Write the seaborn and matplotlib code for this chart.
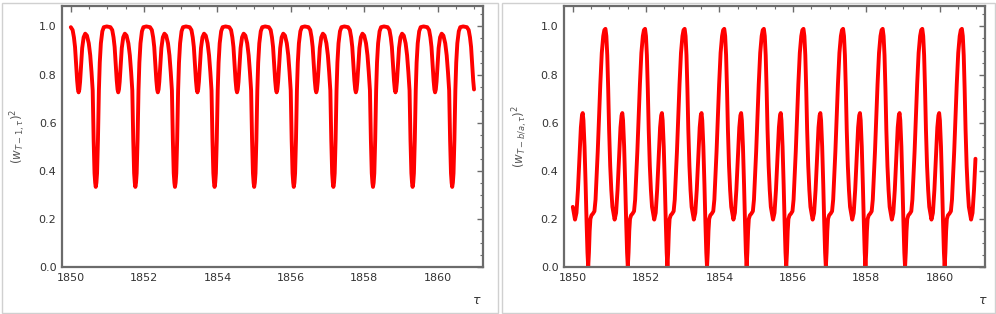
import matplotlib
matplotlib.use("Agg")
import matplotlib.pyplot as plt
from matplotlib.patches import Rectangle
from matplotlib.ticker import MultipleLocator
import seaborn as sns
import numpy as np
import pandas as pd

# one cycle of each curve (offset in years, value)
left_offsets = [0.000, 0.018, 0.036, 0.060, 0.086, 0.110, 0.140, 0.180, 0.220, 0.300,
                0.400, 0.450, 0.485, 0.515, 0.545, 0.573, 0.595, 0.613, 0.633, 0.653,
                0.680, 0.710, 0.750, 0.793, 0.840, 0.890, 0.930, 0.965, 0.997, 1.023,
                1.047, 1.065]
left_values = [0.333, 0.350, 0.390, 0.527, 0.734, 0.850, 0.930, 0.980, 0.997, 1.000,
               0.997, 0.985, 0.955, 0.915, 0.845, 0.775, 0.738, 0.726, 0.738, 0.770,
               0.840, 0.910, 0.955, 0.970, 0.962, 0.930, 0.880, 0.810, 0.734, 0.527,
               0.390, 0.350]
# times of the deep dips (left panel)
left_starts = [1849.60, 1850.68, 1851.76, 1852.84, 1853.92, 1855.00,
               1856.08, 1857.16, 1858.24, 1859.32, 1860.40]

right_offsets = [0.000, 0.025, 0.050, 0.075, 0.100, 0.130, 0.160, 0.190, 0.250, 0.290,
                 0.330, 0.370, 0.410, 0.440, 0.460, 0.480, 0.510, 0.540, 0.565, 0.590,
                 0.610, 0.630, 0.650, 0.670, 0.700, 0.740, 0.780, 0.810, 0.840, 0.870,
                 0.910, 0.940, 0.980, 1.020, 1.050]
right_values = [0.990, 0.960, 0.880, 0.740, 0.570, 0.420, 0.320, 0.250, 0.197, 0.225,
                0.320, 0.450, 0.580, 0.630, 0.640, 0.610, 0.500, 0.340, 0.190, 0.060,
                0.000, 0.060, 0.150, 0.200, 0.215, 0.222, 0.232, 0.280, 0.380, 0.480,
                0.640, 0.760, 0.890, 0.960, 0.985]
# times of the main peaks (right panel)
right_starts = [1849.81, 1850.89, 1851.97, 1853.05, 1854.13, 1855.21,
                1856.29, 1857.37, 1858.45, 1859.53, 1860.61]

t_first, t_last = 1850.0, 1861.0

ylabels = [r'$\left(w_{T-1,\tau}\right)^2$', r'$\left(w_{T-b/a,\tau}\right)^2$']


def build(starts, offsets, values):
    t = np.concatenate([s + np.array(offsets) for s in starts])
    v = np.tile(values, len(starts))
    keep = (t >= t_first - 1e-9) & (t <= t_last + 1e-9)
    return pd.DataFrame({'tau': t[keep], 'w2': v[keep]})


frames = [build(left_starts, left_offsets, left_values),
          build(right_starts, right_offsets, right_values)]

sns.set_style("white")
plt.rcParams['font.family'] = ['DejaVu Sans']
plt.rcParams['mathtext.fontset'] = 'dejavusans'

W, H = 996, 314
fig = plt.figure(figsize=(W / 100, H / 100), dpi=100)

# light outer boxes around each panel
for x0, x1 in [(1.5, 497.5), (501.5, 994.5)]:
    fig.patches.append(Rectangle((x0 / W, 1.5 / H), (x1 - x0) / W, (311 - 1.5) / H,
                                 transform=fig.transFigure, fill=False,
                                 edgecolor='#d0d0d0', linewidth=1.0))

lefts = [62, 564]
frame_col = '#6b6b6b'
for i, df in enumerate(frames):
    ax = fig.add_axes([lefts[i] / W, (H - 267) / H, 421 / W, 261 / H])
    sns.lineplot(data=df, x='tau', y='w2', ax=ax, color='#ff0000', linewidth=2.8,
                 estimator=None)
    ax.set_xlim(1849.76, 1861.24)
    ax.set_ylim(0, 1.085)
    ax.xaxis.set_major_locator(MultipleLocator(2))
    ax.xaxis.set_minor_locator(MultipleLocator(0.5))
    ax.yaxis.set_major_locator(MultipleLocator(0.2))
    ax.yaxis.set_minor_locator(MultipleLocator(0.05))
    ax.set_yticks(np.arange(0, 1.01, 0.2))
    ax.set_yticklabels([f'{v:.1f}' for v in np.arange(0, 1.01, 0.2)])
    ax.tick_params(which='both', direction='in', top=True, right=True,
                   color=frame_col, labelsize=8, labelcolor='#333333', pad=4)
    ax.tick_params(which='major', length=4, width=1.0)
    ax.tick_params(which='minor', length=2.2, width=0.8)
    for sp in ax.spines.values():
        sp.set_color(frame_col)
        sp.set_linewidth(1.6)
    ax.set_xlabel('')
    ax.set_ylabel(ylabels[i], fontsize=8.5, color='#555555', labelpad=8)
    ax.text(0.985 if i == 0 else 0.995, -0.13, r'$\tau$', transform=ax.transAxes,
            fontsize=9, color='#333333', ha='center', va='center')

fig.savefig('out.png', dpi=100)
